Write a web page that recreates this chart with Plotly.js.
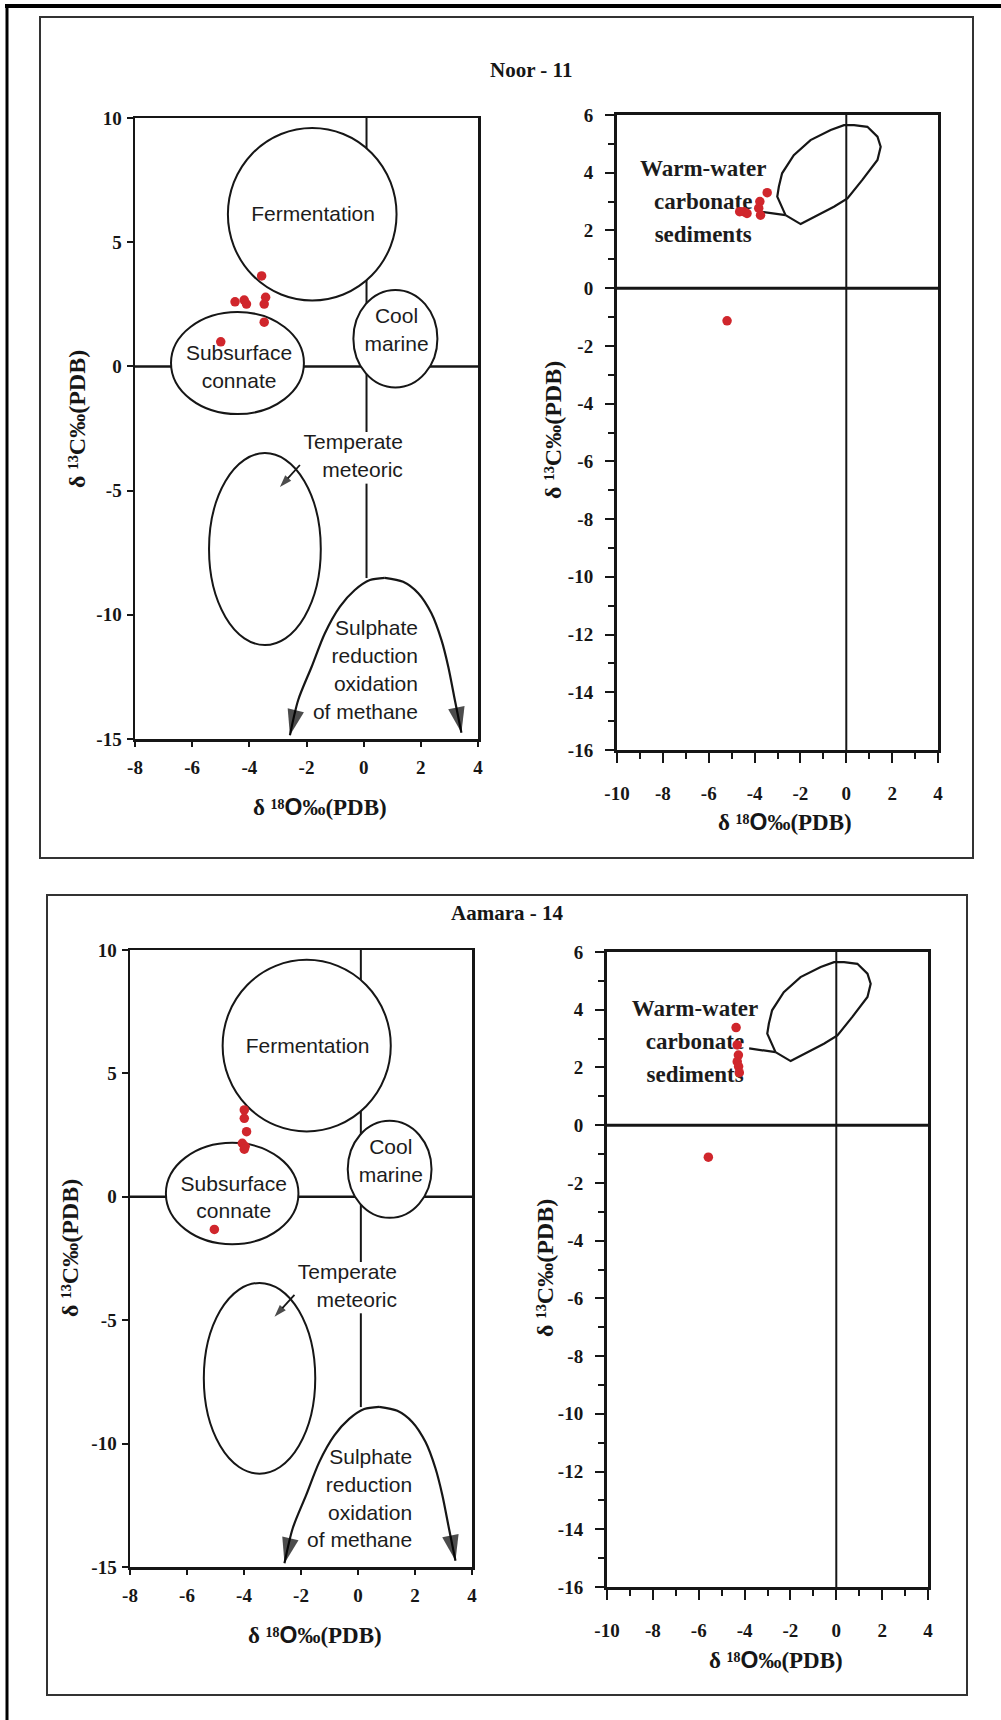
<!DOCTYPE html>
<html>
<head>
<meta charset="utf-8">
<script src="https://cdn.plot.ly/plotly-3.0.1.min.js"></script>
<style>html,body{margin:0;padding:0;background:#fff}#chart{width:1001px;height:1720px}</style>
</head>
<body>
<div id="chart"></div>
<script>
// ---------------- DATA ----------------
// Noor - 11 samples (read from each panel separately)
const noorLeftO  = [-4.50, -4.18, -4.10, -3.57, -3.43, -3.48, -3.48, -5.00];
const noorLeftC  = [ 2.60,  2.67,  2.51,  3.64,  2.78,  2.51,  1.78,  0.99];
const noorRightO = [-3.45, -3.77, -3.82, -3.74, -4.47, -4.33, -4.65, -5.20];
const noorRightC = [ 3.31,  3.00,  2.77,  2.53,  2.65,  2.59,  2.65, -1.13];
// Aamara - 14 samples
const aamaraLeftO  = [-3.99, -3.99, -3.91, -4.06, -3.96, -3.99, -5.04];
const aamaraLeftC  = [ 3.52,  3.18,  2.64,  2.17,  2.04,  1.93, -1.32];
const aamaraRightO = [-4.37, -4.32, -4.27, -4.32, -4.26, -4.23, -5.58];
const aamaraRightC = [ 3.38,  2.78,  2.43,  2.20,  2.03,  1.82, -1.11];

// Diagenetic fields (left panels): ellipse bounds in δ18O / δ13C
const zoneNames = ['Fermentation', 'Cool marine', 'Subsurface connate', 'Temperate meteoric'];
const zoneO0 = [-4.75, -0.36, -6.74, -5.41];
const zoneO1 = [ 1.15,  2.58, -2.09, -1.50];
const zoneC0 = [ 2.65, -0.85, -1.92, -11.22];
const zoneC1 = [ 9.60,  3.08,  2.19,  -3.49];

// Sulphate reduction / oxidation of methane trend (left panels), left tip -> apex -> right tip
const sulphO = [-2.58, -2.29, -1.82, -1.36, -0.83, -0.31, 0.22, 0.74, 1.38, 1.91, 2.37, 2.72, 2.96, 3.19, 3.42];
const sulphC = [-14.85, -13.43, -12.09, -10.75, -9.67, -9.00, -8.60, -8.51, -8.67, -9.13, -9.94, -11.01, -12.09, -13.43, -14.75];
const sulphApex = 7;
// Temperate meteoric pointer (tail -> head)
const tempArrowO = [-2.23, -2.93];
const tempArrowC = [-3.97, -4.86];

// Warm-water carbonate sediments field (right panels)
const warmO = [-2.65, -1.99, -0.54, 0.05, 0.70, 1.36, 1.50, 1.36, 0.92, 0.34, -0.10, -0.68, -1.56, -2.29, -2.80, -2.94, -3.01, -2.80, -2.65];
const warmC = [ 2.53,  2.22,  2.82, 3.11, 3.75, 4.44, 4.90, 5.25, 5.59, 5.65,  5.65,  5.48,  5.13,  4.61,  3.98,  3.52,  3.17,  2.82,  2.53];
const warmTailO = [-3.80, -2.65];
const warmTailC = [ 2.66,  2.53];

// Tick labels
const leftXTicks = [-8, -6, -4, -2, 0, 2, 4];
const leftXText  = ['-8', '-6', '-4', '-2', '0', '2', '4'];
const leftYTicks = [10, 5, 0, -5, -10, -15];
const leftYText  = ['10', '5', '0', '-5', '-10', '-15'];
const rightXTicks = [-10, -8, -6, -4, -2, 0, 2, 4];
const rightXText  = ['-10', '-8', '-6', '-4', '-2', '0', '2', '4'];
const rightXMinor = [-9, -7, -5, -3, -1, 1, 3];
const rightYTicks = [6, 4, 2, 0, -2, -4, -6, -8, -10, -12, -14, -16];
const rightYText  = ['6', '4', '2', '0', '-2', '-4', '-6', '-8', '-10', '-12', '-14', '-16'];
const rightYMinor = [5, 3, 1, -1, -3, -5, -7, -9, -11, -13, -15];

// Label texts (one entry per printed line)
const fieldLabels = [
  ['Fermentation'],
  ['Cool', 'marine'],
  ['Subsurface', 'connate'],
  ['Temperate', 'meteoric'],
  ['Sulphate', 'reduction', 'oxidation', 'of methane']
];
const warmLabel = ['Warm-water', 'carbonate', 'sediments'];
const panelTitles = ['Noor - 11', 'Aamara - 14'];
const yTitle = 'δ ¹³C‰(PDB)';
const xTitle = 'δ ¹⁸<span style="font-family:Liberation Sans, Arial, sans-serif;font-weight:bold">O</span>‰(PDB)';

// ---------------- STYLE / LAYOUT ----------------
const W = 1001, H = 1720;
const fx = p => p / W;
const fy = p => 1 - p / H;
const serif = 'Liberation Serif, Times New Roman, serif';
const sans = 'Liberation Sans, Arial, sans-serif';
const ink = '#161616';
const red = '#d0262c';
const leftPxPerUnit = 24.8;   // vertical px per δ13C unit, left panels
const rightPxPerUnit = 28.86; // vertical px per δ13C unit, right panels

// label anchors (data coords of each text block centre / right edge)
const fieldLabelAnchor = {
  x: [-1.77, 1.15, -4.36, 1.37, 1.90],
  y: [6.05, 1.38, -0.10, -3.67, -12.30],
  pos: ['middle center', 'middle center', 'middle center', 'middle left', 'middle left']
};

function baseAxis(extra) {
  return Object.assign({
    showgrid: false, zeroline: false, showline: true, mirror: true,
    linecolor: ink, ticks: 'outside', tickcolor: ink, tickwidth: 2,
    tickmode: 'array', fixedrange: true,
    tickfont: {family: serif, size: 19, color: ink, weight: 'bold'}
  }, extra);
}
function leftX(domain, anchor) {
  return baseAxis({domain, anchor, range: [-8, 4], tickvals: leftXTicks, ticktext: leftXText,
    ticklen: 5, linewidth: 2.5, ticklabelstandoff: 5});
}
function leftY(domain, anchor) {
  return baseAxis({domain, anchor, range: [-15, 10], tickvals: leftYTicks, ticktext: leftYText,
    ticklen: 6, linewidth: 2.5, ticklabelstandoff: 1});
}
function rightX(domain, anchor) {
  return baseAxis({domain, anchor, range: [-10, 4], tickvals: rightXTicks, ticktext: rightXText,
    ticklen: 10, linewidth: 3, ticklabelstandoff: 14,
    minor: {tickmode: 'array', tickvals: rightXMinor, ticks: 'outside', ticklen: 6, tickwidth: 2, tickcolor: ink}});
}
function rightY(domain, anchor) {
  return baseAxis({domain, anchor, range: [-16, 6], tickvals: rightYTicks, ticktext: rightYText,
    ticklen: 9, linewidth: 3, ticklabelstandoff: 8,
    minor: {tickmode: 'array', tickvals: rightYMinor, ticks: 'outside', ticklen: 6, tickwidth: 2, tickcolor: ink}});
}

const traces = [];
const shapes = [];
const annotations = [];

// Frame lines (paper)
shapes.push({type: 'line', xref: 'paper', yref: 'paper', x0: fx(5), x1: 1, y0: fy(6), y1: fy(6), line: {color: '#000', width: 4}});
shapes.push({type: 'line', xref: 'paper', yref: 'paper', x0: fx(7), x1: fx(7), y0: fy(4), y1: 0, line: {color: '#000', width: 3}});
shapes.push({type: 'rect', xref: 'paper', yref: 'paper', x0: fx(40), x1: fx(973), y0: fy(858), y1: fy(17), line: {color: '#333', width: 2}});
shapes.push({type: 'rect', xref: 'paper', yref: 'paper', x0: fx(47), x1: fx(967), y0: fy(1695), y1: fy(895), line: {color: '#333', width: 2}});

function arrowTrace(xs, ys, xr, yr, headSize, width, spline) {
  return {type: 'scatter', mode: 'lines+markers', x: xs, y: ys, xaxis: xr, yaxis: yr, hoverinfo: 'skip',
    line: {color: ink, width, shape: spline ? 'spline' : 'linear', smoothing: 0.8},
    marker: {symbol: 'arrow', angleref: 'previous', color: '#000', line: {width: 0},
      size: xs.map((v, i) => i === xs.length - 1 ? headSize : 0)}};
}

// multi-line label block -> one text point per line
function labelLines(lines, cx, cy, pos, spacingPx, pxPerUnit, out) {
  const n = lines.length;
  lines.forEach((t, i) => {
    out.x.push(cx);
    out.y.push(cy + ((n - 1) / 2 - i) * spacingPx / pxPerUnit);
    out.text.push(t);
    out.pos.push(pos);
  });
}

// Left (genetic fields) panel
function leftPanel(xr, yr, sO, sC) {
  shapes.push({type: 'line', xref: xr, yref: yr, x0: -8, x1: 4, y0: 0, y1: 0, layer: 'below', line: {color: ink, width: 2.5}});
  shapes.push({type: 'line', xref: xr, yref: yr, x0: 0.1, x1: 0.1, y0: 10, y1: -2.64, layer: 'below', line: {color: ink, width: 2}});
  shapes.push({type: 'line', xref: xr, yref: yr, x0: 0.1, x1: 0.1, y0: -4.72, y1: -8.52, layer: 'below', line: {color: ink, width: 2}});
  for (let i = 0; i < zoneNames.length; i++) {
    shapes.push({type: 'circle', xref: xr, yref: yr, x0: zoneO0[i], x1: zoneO1[i], y0: zoneC0[i], y1: zoneC1[i],
      layer: 'below', fillcolor: '#fff', line: {color: ink, width: 2}});
  }
  traces.push(arrowTrace(sulphO.slice(0, sulphApex + 1).reverse(), sulphC.slice(0, sulphApex + 1).reverse(), xr, yr, 27, 2.2, true));
  traces.push(arrowTrace(sulphO.slice(sulphApex), sulphC.slice(sulphApex), xr, yr, 27, 2.2, true));
  traces.push(arrowTrace(tempArrowO, tempArrowC, xr, yr, 13, 1.8, false));
  const lab = {x: [], y: [], text: [], pos: []};
  fieldLabels.forEach((lines, i) => labelLines(lines, fieldLabelAnchor.x[i], fieldLabelAnchor.y[i], fieldLabelAnchor.pos[i], 28, leftPxPerUnit, lab));
  traces.push({type: 'scatter', mode: 'text', xaxis: xr, yaxis: yr, hoverinfo: 'skip',
    x: lab.x, y: lab.y, text: lab.text, textposition: lab.pos,
    textfont: {family: sans, size: 21, color: '#1c1c1c'}});
  traces.push({type: 'scatter', mode: 'markers', x: sO, y: sC, xaxis: xr, yaxis: yr,
    marker: {color: red, size: 9.5, line: {width: 0}}, hoverinfo: 'skip'});
}

function rightPanel(xr, yr, sO, sC, labO, labC) {
  shapes.push({type: 'line', xref: xr, yref: yr, x0: -10, x1: 4, y0: 0, y1: 0, layer: 'below', line: {color: ink, width: 3}});
  shapes.push({type: 'line', xref: xr, yref: yr, x0: 0, x1: 0, y0: -16, y1: 6, layer: 'below', line: {color: ink, width: 2}});
  traces.push({type: 'scatter', mode: 'lines', x: warmO, y: warmC, xaxis: xr, yaxis: yr,
    line: {color: ink, width: 2.2}, hoverinfo: 'skip'});
  traces.push({type: 'scatter', mode: 'lines', x: warmTailO, y: warmTailC, xaxis: xr, yaxis: yr,
    line: {color: ink, width: 2.2}, hoverinfo: 'skip'});
  const lab = {x: [], y: [], text: [], pos: []};
  labelLines(warmLabel, labO, labC, 'middle center', 33, rightPxPerUnit, lab);
  traces.push({type: 'scatter', mode: 'text', xaxis: xr, yaxis: yr, hoverinfo: 'skip',
    x: lab.x, y: lab.y, text: lab.text, textposition: lab.pos,
    textfont: {family: serif, size: 23, color: '#1c1c1c', weight: 'bold'}});
  traces.push({type: 'scatter', mode: 'markers', x: sO, y: sC, xaxis: xr, yaxis: yr,
    marker: {color: red, size: 9.5, line: {width: 0}}, hoverinfo: 'skip'});
}

leftPanel('x', 'y', noorLeftO, noorLeftC);
rightPanel('x2', 'y2', noorRightO, noorRightC, -6.24, 2.95);
leftPanel('x3', 'y3', aamaraLeftO, aamaraLeftC);
rightPanel('x4', 'y4', aamaraRightO, aamaraRightC, -6.16, 2.85);

// Titles
function paperText(text, x, y, size, angle) {
  annotations.push({xref: 'paper', yref: 'paper', x: fx(x), y: fy(y), xanchor: 'center', yanchor: 'middle',
    text, showarrow: false, textangle: angle || 0, font: {family: serif, size, color: ink, weight: 'bold'}});
}
paperText(panelTitles[0], 531, 70, 21);
paperText(panelTitles[1], 507, 913, 21);
paperText(xTitle, 320, 807, 23);
paperText(yTitle, 77, 419, 24, -90);
paperText(xTitle, 785, 822, 23);
paperText(yTitle, 553, 430, 24, -90);
paperText(xTitle, 315, 1635, 23);
paperText(yTitle, 70, 1248, 24, -90);
paperText(xTitle, 776, 1660, 23);
paperText(yTitle, 545, 1268, 24, -90);

const layout = {
  width: W, height: H, margin: {l: 0, r: 0, t: 0, b: 0},
  paper_bgcolor: '#fff', plot_bgcolor: 'rgba(0,0,0,0)', showlegend: false,
  xaxis: leftX([fx(135), fx(478)], 'y'),
  yaxis: leftY([fy(739), fy(118)], 'x'),
  xaxis2: rightX([fx(617), fx(938)], 'y2'),
  yaxis2: rightY([fy(750), fy(115)], 'x2'),
  xaxis3: leftX([fx(130), fx(472)], 'y3'),
  yaxis3: leftY([fy(1567), fy(950)], 'x3'),
  xaxis4: rightX([fx(607), fx(928)], 'y4'),
  yaxis4: rightY([fy(1587), fy(952)], 'x4'),
  shapes, annotations
};

Plotly.newPlot('chart', traces, layout, {displayModeBar: false, staticPlot: true});
</script>
</body>
</html>
